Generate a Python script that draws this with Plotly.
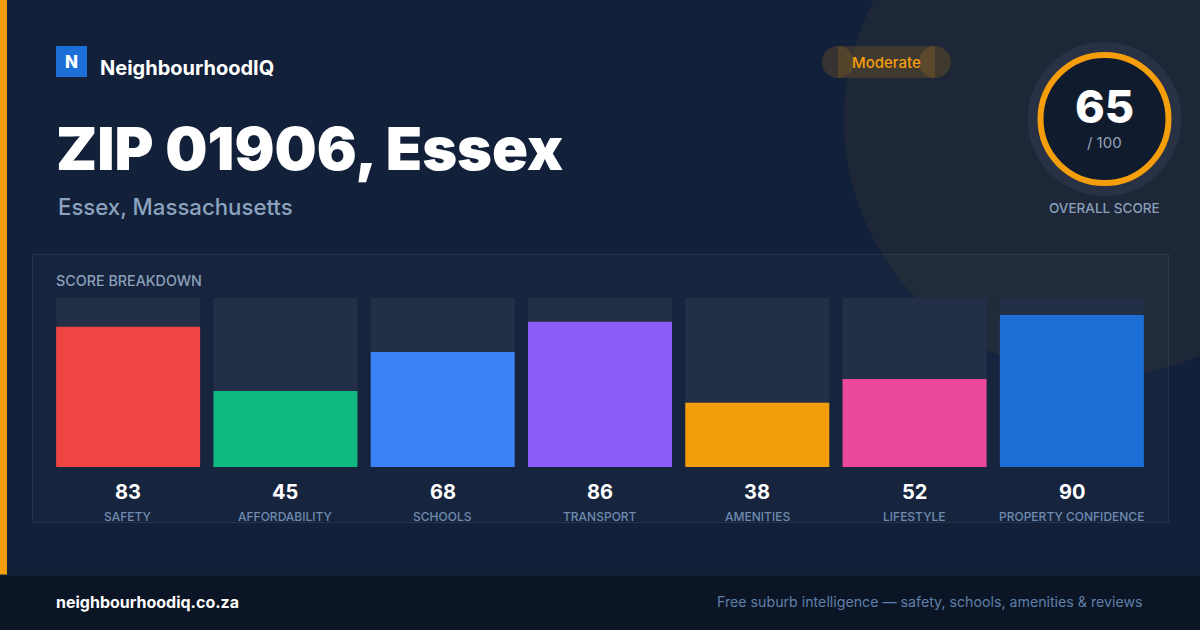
import plotly.graph_objects as go

W, H = 1200, 630
categories = ["SAFETY", "AFFORDABILITY", "SCHOOLS", "TRANSPORT", "AMENITIES", "LIFESTYLE", "PROPERTY CONFIDENCE"]
scores = [83, 45, 68, 86, 38, 52, 90]
bar_colors = ["#ef4444", "#10b981", "#3b82f6", "#8b5cf6", "#f59e0b", "#ec4899", "#1d6fd8"]
overall_score = 65
overall_label = "Moderate"
title = "ZIP 01906, Essex"
subtitle = "Essex, Massachusetts"
brand = "NeighbourhoodIQ"
footer_left = "neighbourhoodiq.co.za"
footer_right = "Free suburb intelligence \u2014 safety, schools, amenities & reviews"

FONT = "Inter"
BG = "#12203a"

fig = go.Figure()

# invisible trace to anchor the pixel axes
fig.add_trace(go.Scatter(x=[0, W], y=[0, H], mode="markers", marker=dict(opacity=0),
                         hoverinfo="skip", showlegend=False, xaxis="x", yaxis="y"))

# bar tracks and bars
idx = list(range(len(categories)))
fig.add_trace(go.Bar(x=idx, y=[100] * len(categories), marker=dict(color="#222f46", line=dict(width=0)),
                     width=0.9155, hoverinfo="skip", showlegend=False, xaxis="x2", yaxis="y2"))
fig.add_trace(go.Bar(x=idx, y=scores, marker=dict(color=bar_colors, line=dict(width=0)),
                     width=0.9155, hoverinfo="skip", showlegend=False, xaxis="x2", yaxis="y2"))

shapes = []
shapes.append(dict(type="circle", xref="x", yref="y", x0=1100 - 256, x1=1100 + 256, y0=120 - 256, y1=120 + 256,
                   fillcolor="rgba(245,158,11,0.06)", line=dict(width=0), layer="below"))
shapes.append(dict(type="rect", xref="x", yref="y", x0=0, x1=7, y0=0, y1=575,
                   fillcolor="#f59e0b", line=dict(width=0), layer="below"))
shapes.append(dict(type="rect", xref="x", yref="y", x0=0, x1=W, y0=575, y1=H,
                   fillcolor="#0b1526", line=dict(width=0), layer="below"))
shapes.append(dict(type="line", xref="x", yref="y", x0=0, x1=W, y0=575, y1=575,
                   line=dict(color="#18263d", width=1), layer="below"))
shapes.append(dict(type="rect", xref="x", yref="y", x0=32.5, x1=1168.5, y0=254.5, y1=522.5,
                   fillcolor="rgba(255,255,255,0.02)", line=dict(color="rgba(255,255,255,0.08)", width=1), layer="below"))
shapes.append(dict(type="rect", xref="x", yref="y", x0=56, x1=87, y0=46, y1=77,
                   fillcolor="#1d6fd8", line=dict(width=0), layer="below"))
pill = "rgba(245,158,11,0.16)"
shapes.append(dict(type="rect", xref="x", yref="y", x0=838, x1=935, y0=46, y1=78,
                   fillcolor=pill, line=dict(width=0), layer="below"))
shapes.append(dict(type="circle", xref="x", yref="y", x0=822, x1=854, y0=46, y1=78,
                   fillcolor=pill, line=dict(width=0), layer="below"))
shapes.append(dict(type="circle", xref="x", yref="y", x0=919, x1=951, y0=46, y1=78,
                   fillcolor=pill, line=dict(width=0), layer="below"))
cx, cy = 1104.5, 119
shapes.append(dict(type="circle", xref="x", yref="y", x0=cx - 77, x1=cx + 77, y0=cy - 77, y1=cy + 77,
                   fillcolor="#283244", line=dict(width=0), layer="above"))
shapes.append(dict(type="circle", xref="x", yref="y", x0=cx - 64, x1=cx + 64, y0=cy - 64, y1=cy + 64,
                   fillcolor="#111b2e", line=dict(color="#f59e0b", width=6), layer="above"))

ann = []
def txt(x, y, s, size, color, weight=400, xanchor="left", family=FONT, xref="x"):
    ann.append(dict(x=x, y=y, xref=xref, yref="y", text=s, showarrow=False,
                    xanchor=xanchor, yanchor="middle",
                    font=dict(family=family, size=size, color=color, weight=weight)))

txt(71.5, 61.5, "N", 17, "#ffffff", weight=800, xanchor="center")
txt(98, 68, brand, 20, "#ffffff", weight=700)
txt(886, 62, overall_label, 15, "#f59e0b", weight=500, xanchor="center")
txt(54, 148, title, 59.4, "#ffffff", weight=900)
txt(56, 206, subtitle, 22.2, "#8ca3bf", weight=500)
txt(cx, 106, str(overall_score), 45, "#ffffff", weight=800, xanchor="center")
txt(cx, 142, "/ 100", 15, "#94a3b8", xanchor="center")
txt(cx, 208, "OVERALL SCORE", 13.5, "#8aa0bb", weight=500, xanchor="center")
txt(54, 280, "SCORE BREAKDOWN", 14.3, "#8aa0bb", weight=500)
for i, (c, v) in enumerate(zip(categories, scores)):
    txt(i, 492, str(v), 20, "#ffffff", weight=700, xanchor="center", xref="x2")
    txt(i, 516, c, 12, "#6f8bb0", weight=500, xanchor="center", xref="x2")
txt(54, 602, footer_left, 16, "#ffffff", weight=700)
txt(1145, 602, footer_right, 14.2, "#5f80a8", xanchor="right")

fig.update_layout(
    width=W, height=H, margin=dict(l=0, r=0, t=0, b=0),
    paper_bgcolor=BG, plot_bgcolor="rgba(0,0,0,0)",
    barmode="overlay", showlegend=False,
    xaxis=dict(range=[0, W], domain=[0, 1], visible=False, fixedrange=True),
    yaxis=dict(range=[H, 0], domain=[0, 1], visible=False, fixedrange=True),
    xaxis2=dict(range=[-0.5, 6.5], domain=[49.5 / W, 1150.5 / W], visible=False, anchor="y2", fixedrange=True),
    yaxis2=dict(range=[0, 100], domain=[(H - 467) / H, (H - 298) / H], visible=False, anchor="x2", fixedrange=True),
    shapes=shapes, annotations=ann,
)
fig.write_html("out.html", config={"displayModeBar": False},
               post_script="document.body.style.margin='0';document.body.style.background='#12203a';")
